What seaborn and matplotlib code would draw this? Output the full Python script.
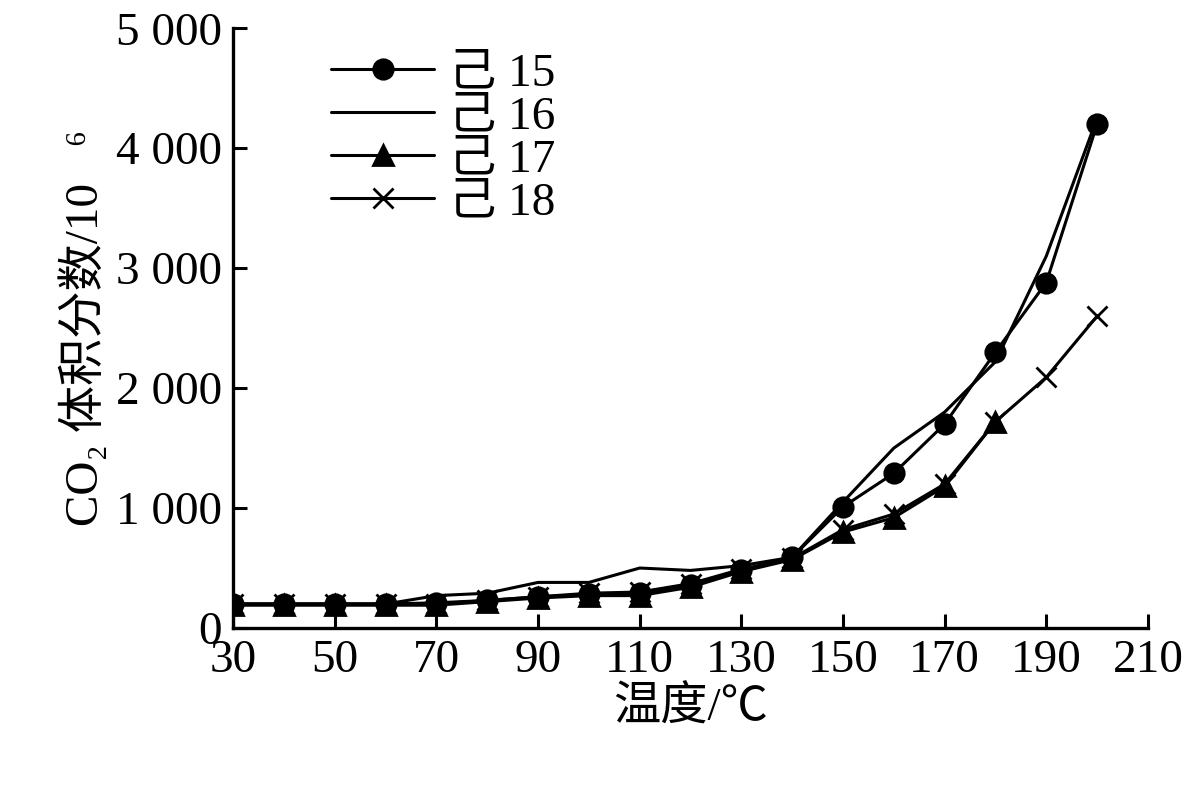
import numpy as np
import pandas as pd
import matplotlib
matplotlib.use('Agg')
import matplotlib.pyplot as plt
import seaborn as sns

# Dane
temp = [30, 40, 50, 60, 70, 80, 90, 100, 110, 120, 130, 140, 150, 160, 170, 180, 190, 200]
s15 = [200, 200, 200, 200, 210, 230, 260, 280, 290, 360, 480, 590, 1010, 1290, 1700, 2300, 2880, 4200]
s16 = [200, 200, 200, 200, 270, 290, 380, 380, 500, 480, 520, 590, 1050, 1500, 1800, 2220, 3100, 4250]
s17 = [190, 190, 190, 190, 190, 220, 250, 270, 270, 340, 470, 570, 800, 920, 1180, 1720]
s18 = [200, 200, 200, 200, 200, 230, 260, 290, 300, 370, 490, 580, 820, 950, 1200, 1720, 2090, 2600]
labels = ['己 15', '己 16', '己 17', '己 18']
markers = ['o', None, '^', 'x']

sns.set_style('ticks')
plt.rcParams['font.family'] = ['Liberation Serif', 'Noto Sans CJK SC']
plt.rcParams['text.color'] = 'black'
plt.rcParams['xtick.color'] = 'black'
plt.rcParams['ytick.color'] = 'black'
plt.rcParams['axes.labelcolor'] = 'black'
plt.rcParams['axes.edgecolor'] = 'black'

fig = plt.figure(figsize=(12.02, 7.85), dpi=100)
ax = fig.add_axes([0.194, 0.2, 0.761, 0.764])

for ser, lab, m in zip([s15, s16, s17, s18], labels, markers):
    sns.lineplot(x=temp[:len(ser)], y=ser, ax=ax, color='black', lw=2.2,
                 marker=m, markersize=14, mew=2, mec='black', mfc='black', label=lab)

ax.set_xlim(30, 210)
ax.set_ylim(0, 5000)
ax.set_xticks(range(30, 211, 20))
ax.set_yticks(range(0, 5001, 1000))
ax.set_yticklabels(['0', '1 000', '2 000', '3 000', '4 000', '5 000'])
ax.tick_params(direction='in', length=10, width=2.2, labelsize=34, pad=8)
for s in ['left', 'bottom']:
    ax.spines[s].set_linewidth(2.4)
sns.despine(ax=ax)
ax.set_xlabel('温度/℃', fontsize=34, labelpad=4)
ax.set_ylabel('CO₂ 体积分数/10⁻⁶', fontsize=34, labelpad=6)
ax.legend(loc='upper left', bbox_to_anchor=(0.06, 1.03), frameon=False, fontsize=34,
          handlelength=2.2, labelspacing=0.0, handletextpad=0.3)

fig.savefig('out.png', dpi=100)
